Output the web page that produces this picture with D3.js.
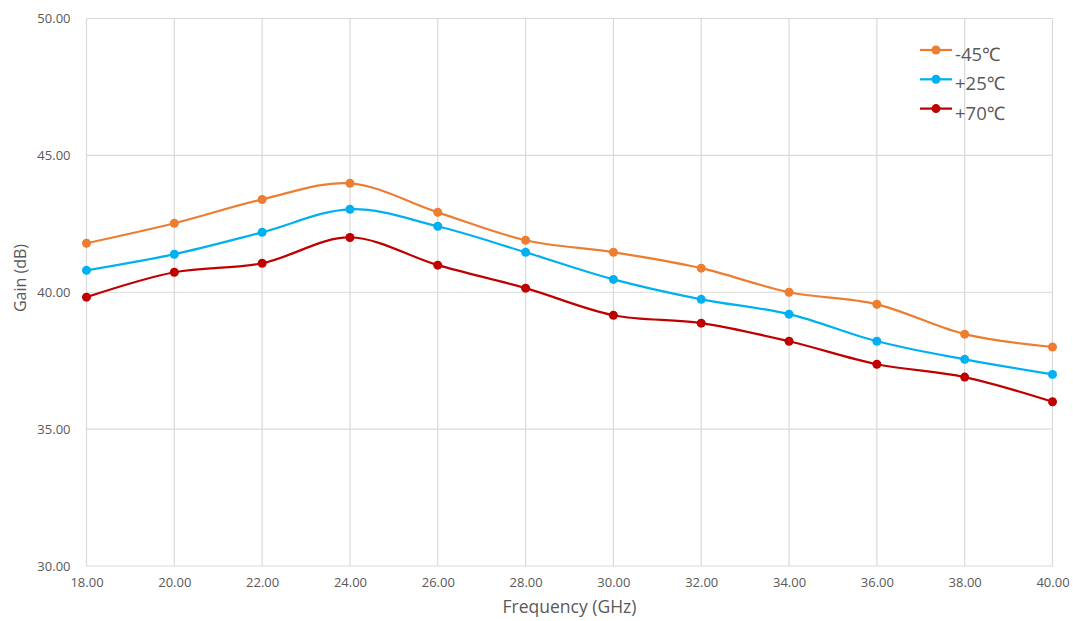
<!DOCTYPE html>
<html>
<head>
<meta charset="utf-8">
<script src="https://cdn.jsdelivr.net/npm/d3@7"></script>
<style>
  body { margin: 0; background: #fff; }
  text { font-family: "Open Sans", "Noto Sans", sans-serif; fill: #595959; }
</style>
</head>
<body>
<div id="chart"></div>
<script>
var width = 1073, height = 621;
var margin = {top: 18.5, right: 20, bottom: 55, left: 86.5};

var freqs = [18, 20, 22, 24, 26, 28, 30, 32, 34, 36, 38, 40];
var gainM45 = [41.79, 42.52, 43.39, 43.98, 42.92, 41.9, 41.46, 40.88, 40.0, 39.56, 38.47, 38.0];
var gainP25 = [40.8, 41.39, 42.19, 43.03, 42.41, 41.46, 40.47, 39.74, 39.2, 38.21, 37.55, 37.0];
var gainP70 = [39.82, 40.73, 41.06, 42.0, 40.99, 40.15, 39.16, 38.87, 38.21, 37.37, 36.9, 36.0];
var seriesNames = ['-45℃', '+25℃', '+70℃'];
var seriesColors = ['#ED7D31', '#00B0F0', '#C00000'];
var xTicks = [18, 20, 22, 24, 26, 28, 30, 32, 34, 36, 38, 40];
var yTicks = [30, 35, 40, 45, 50];

var series = [gainM45, gainP25, gainP70].map(function(vals, i){
    return {name: seriesNames[i], color: seriesColors[i],
            values: vals.map(function(v, j){ return {x: freqs[j], y: v}; })};
});

var svg = d3.select('#chart')
    .append('svg')
    .attr('width', width)
    .attr('height', height);

var xScale = d3.scaleLinear().domain([18, 40]).range([margin.left, 1052.5]);
var yScale = d3.scaleLinear().domain([30, 50]).range([566, margin.top]);

// gridlines
svg.append('g').selectAll('line.vg')
    .data(xTicks)
    .enter().append('line')
    .attr('x1', d => xScale(d)).attr('x2', d => xScale(d))
    .attr('y1', yScale(30)).attr('y2', yScale(50))
    .attr('stroke', '#d9d9d9').attr('stroke-width', 1.2);

svg.append('g').selectAll('line.hg')
    .data(yTicks)
    .enter().append('line')
    .attr('x1', xScale(18)).attr('x2', xScale(40))
    .attr('y1', d => yScale(d)).attr('y2', d => yScale(d))
    .attr('stroke', '#d9d9d9').attr('stroke-width', 1.2);

// axes
var xAxis = d3.axisBottom(xScale).tickValues(xTicks).tickFormat(d3.format('.2f')).tickSize(0).tickPadding(12);
var yAxis = d3.axisLeft(yScale).tickValues(yTicks).tickFormat(d3.format('.2f')).tickSize(0).tickPadding(16);

svg.append('g')
    .attr('transform', 'translate(0,' + yScale(30) + ')')
    .call(xAxis)
    .call(g => g.select('.domain').remove())
    .selectAll('text').style('font-size', '13px').attr('fill', '#595959');

svg.append('g')
    .attr('transform', 'translate(' + xScale(18) + ',0)')
    .call(yAxis)
    .call(g => g.select('.domain').remove())
    .selectAll('text').style('font-size', '13px').attr('fill', '#595959');

// axis titles
svg.append('text')
    .attr('x', (xScale(18) + xScale(40)) / 2)
    .attr('y', 613)
    .attr('text-anchor', 'middle')
    .style('font-size', '17.5px')
    .text('Frequency (GHz)');

svg.append('text')
    .attr('transform', 'translate(26,278) rotate(-90)')
    .attr('text-anchor', 'middle')
    .style('font-size', '16px')
    .text('Gain (dB)');

// lines
var line = d3.line()
    .x(d => xScale(d.x))
    .y(d => yScale(d.y))
    .curve(d3.curveCardinal.tension(0));

var sg = svg.selectAll('.series')
    .data(series)
    .enter().append('g')
    .attr('class', 'series');

sg.append('path')
    .attr('d', d => line(d.values))
    .attr('fill', 'none')
    .attr('stroke', d => d.color)
    .attr('stroke-width', 2.25);

sg.each(function(s){
    d3.select(this).selectAll('circle')
        .data(s.values)
        .enter().append('circle')
        .attr('cx', d => xScale(d.x))
        .attr('cy', d => yScale(d.y))
        .attr('r', 4.5)
        .attr('fill', s.color);
});

// legend
var legend = svg.append('g').selectAll('.lg')
    .data(series)
    .enter().append('g')
    .attr('transform', (d, i) => 'translate(920,' + (50 + i * 29.3) + ')');

legend.append('line')
    .attr('x1', 0).attr('x2', 32)
    .attr('y1', 0).attr('y2', 0)
    .attr('stroke', d => d.color).attr('stroke-width', 2.25);

legend.append('circle')
    .attr('cx', 16).attr('cy', 0).attr('r', 4.5)
    .attr('fill', d => d.color);

legend.append('text')
    .attr('x', 35).attr('y', 11)
    .style('font-size', '18.5px')
    .text(d => d.name);
</script>
</body>
</html>
